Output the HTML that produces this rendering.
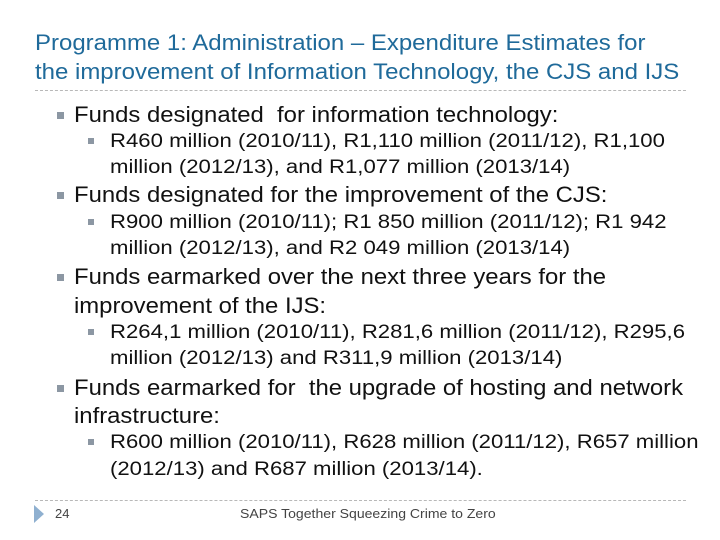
<!DOCTYPE html>
<html><head><meta charset="utf-8"><style>
body{margin:0;width:720px;height:540px;background:#fff;position:relative;overflow:hidden;font-family:"Liberation Sans",Arial,sans-serif}
.t,.l1,.l2{transform-origin:0 50%}
.t{position:absolute;left:35px;font-size:22px;color:#1f6a9a;line-height:28px;white-space:pre;transform:scaleX(1.09)}
.l1,.l2{position:absolute;white-space:pre;color:#111;line-height:28px}
.l1{left:74px;font-size:22px;transform:scaleX(1.085)}
.l2{left:110px;font-size:19px;transform:scaleX(1.165)}
.b{position:absolute;background:#8c97a3;width:7px;height:7px}
.dash{position:absolute;left:35px;width:651px;border-top:1px dashed #b8b8b8;height:0}
</style></head><body>
<div class="t" style="top:29px">Programme 1: Administration – Expenditure Estimates for</div>
<div class="t" style="top:58px">the improvement of Information Technology, the CJS and IJS</div>
<div class="dash" style="top:90px"></div>

<div class="b" style="left:57px;top:112px"></div>
<div class="l1" style="top:101px">Funds designated  for information technology:</div>
<div class="b" style="left:88px;top:138px;width:6px;height:6px"></div>
<div class="l2" style="top:128px">R460 million (2010/11), R1,110 million (2011/12), R1,100</div>
<div class="l2" style="top:154px">million (2012/13), and R1,077 million (2013/14)</div>

<div class="b" style="left:57px;top:192px"></div>
<div class="l1" style="top:181px">Funds designated for the improvement of the CJS:</div>
<div class="b" style="left:88px;top:219px;width:6px;height:6px"></div>
<div class="l2" style="top:209px">R900 million (2010/11); R1 850 million (2011/12); R1 942</div>
<div class="l2" style="top:235px">million (2012/13), and R2 049 million (2013/14)</div>

<div class="b" style="left:57px;top:274px"></div>
<div class="l1" style="top:263px">Funds earmarked over the next three years for the</div>
<div class="l1" style="top:292px">improvement of the IJS:</div>
<div class="b" style="left:88px;top:329px;width:6px;height:6px"></div>
<div class="l2" style="top:319px">R264,1 million (2010/11), R281,6 million (2011/12), R295,6</div>
<div class="l2" style="top:345px">million (2012/13) and R311,9 million (2013/14)</div>

<div class="b" style="left:57px;top:385px"></div>
<div class="l1" style="top:374px">Funds earmarked for  the upgrade of hosting and network</div>
<div class="l1" style="top:402px">infrastructure:</div>
<div class="b" style="left:88px;top:439px;width:6px;height:6px"></div>
<div class="l2" style="top:429px">R600 million (2010/11), R628 million (2011/12), R657 million</div>
<div class="l2" style="top:456px">(2012/13) and R687 million (2013/14).</div>

<div class="dash" style="top:500px"></div>
<svg style="position:absolute;left:34px;top:505px" width="12" height="18"><polygon points="0,0 10,9 0,18" fill="#8fb0d0"/></svg>
<div style="position:absolute;left:55px;top:506px;font-size:13px;color:#444">24</div>
<div style="position:absolute;left:240px;top:506px;font-size:13px;color:#444;white-space:pre;transform:scaleX(1.08);transform-origin:0 50%">SAPS Together Squeezing Crime to Zero</div>
</body></html>
